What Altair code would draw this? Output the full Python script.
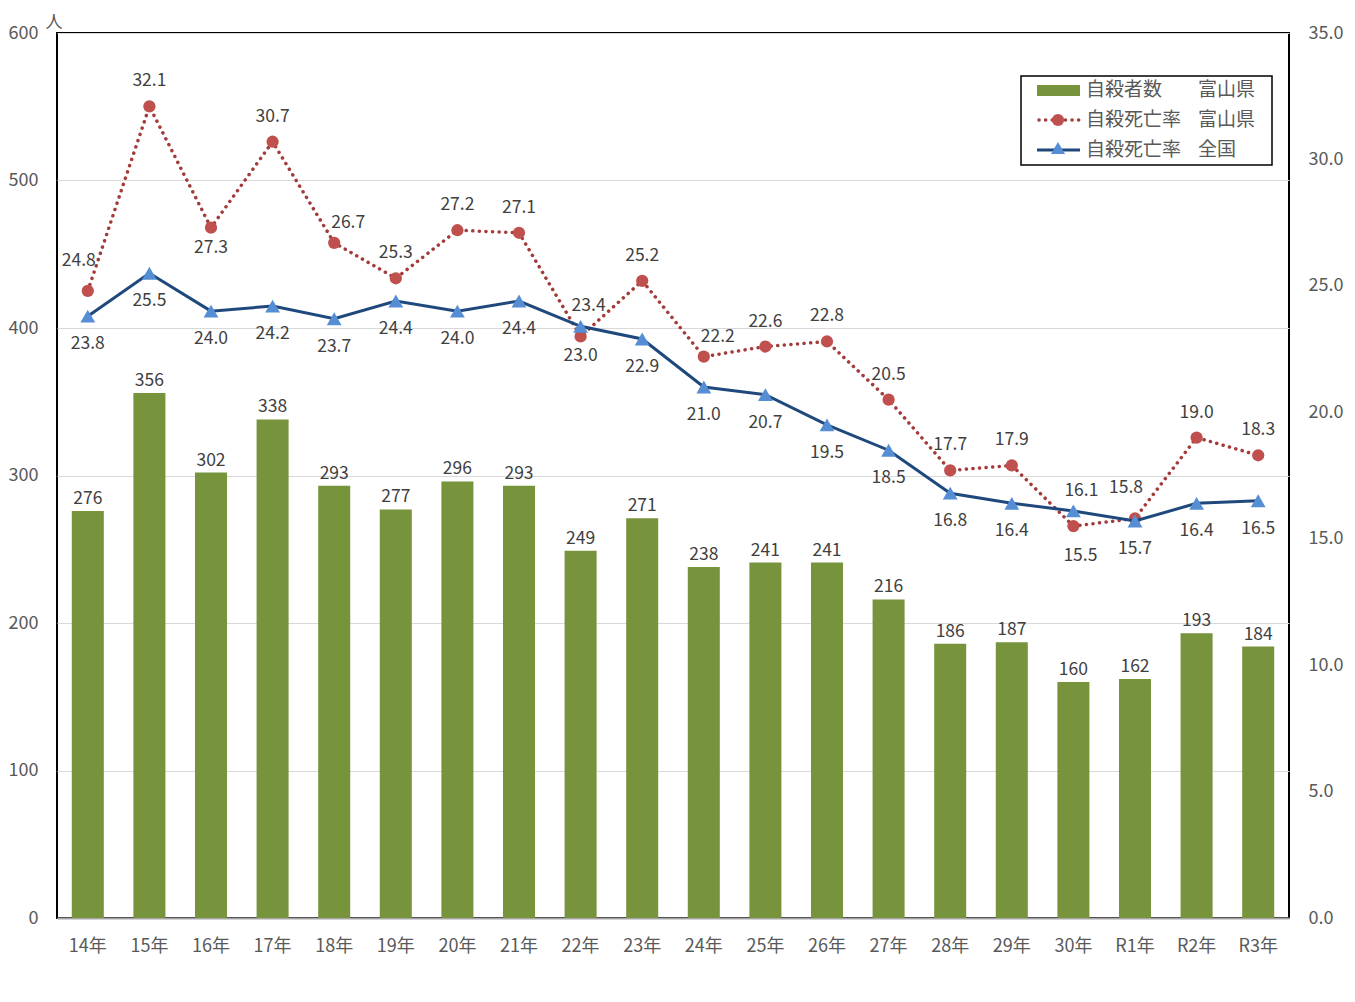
import altair as alt
import pandas as pd

years = ["14年", "15年", "16年", "17年", "18年", "19年", "20年", "21年", "22年", "23年",
         "24年", "25年", "26年", "27年", "28年", "29年", "30年", "R1年", "R2年", "R3年"]
suicides_toyama = [276, 356, 302, 338, 293, 277, 296, 293, 249, 271,
                   238, 241, 241, 216, 186, 187, 160, 162, 193, 184]
rate_toyama = [24.8, 32.1, 27.3, 30.7, 26.7, 25.3, 27.2, 27.1, 23.0, 25.2,
               22.2, 22.6, 22.8, 20.5, 17.7, 17.9, 15.5, 15.8, 19.0, 18.3]
rate_japan = [23.8, 25.5, 24.0, 24.2, 23.7, 24.4, 24.0, 24.4, 23.4, 22.9,
              21.0, 20.7, 19.5, 18.5, 16.8, 16.4, 16.1, 15.7, 16.4, 16.5]
toyama_label_side = ["above-left", "above", "below", "above", "above-right", "above", "above", "above", "below", "above",
                     "above-right", "above", "above", "above", "above", "above", "below-right", "above-left", "above", "above"]
japan_label_side = ["below", "below", "below", "below", "below", "below", "below", "below", "above-right", "below",
                    "below", "below", "below", "below", "below", "below", "above-right", "below", "below", "below"]

legend_names = ["自殺者数", "自殺死亡率", "自殺死亡率"]
legend_regions = ["富山県", "富山県", "全国"]

df = pd.DataFrame({
    "year": years,
    "count": suicides_toyama,
    "rt": rate_toyama,
    "rj": rate_japan,
    "sideT": toyama_label_side,
    "sideJ": japan_label_side,
})

FONT = "Noto Sans CJK JP"
GREEN = "#77933C"
RED = "#C0504D"
RED_LINE = "#A33B3A"
NAVY = "#1F497D"
LBLUE = "#558ED5"
TXT = "#404040"
AX = "#595959"
FS = 17.5

x = alt.X("year:N", sort=years,
          scale=alt.Scale(paddingInner=0.48, paddingOuter=0.24),
          axis=alt.Axis(title=None, labelAngle=0, labelFontSize=18, labelColor=AX, labelFont=FONT,
                        ticks=False, domainColor="#A6A6A6", domainWidth=2, labelPadding=19))

yl = alt.Y("count:Q", scale=alt.Scale(domain=[0, 600], nice=False),
           axis=alt.Axis(title="人", titleAngle=0, titleX=-12, titleY=-11, titleAlign="left",
                         titleBaseline="middle",
                         titleFontSize=17, titleFontWeight="normal", titleColor=AX, titleFont=FONT,
                         values=[0, 100, 200, 300, 400, 500, 600], labelFontSize=18, labelColor=AX,
                         labelFont=FONT, ticks=False, domain=False, labelPadding=19,
                         gridColor="#D9D9D9", gridWidth=1))

base = alt.Chart(df)

bars = base.mark_bar(color=GREEN).encode(x=x, y=yl)
bar_labels = base.mark_text(dy=-12, fontSize=FS, color=TXT, font=FONT).encode(
    x=x, y=alt.Y("count:Q"), text=alt.Text("count:Q"))
left = alt.layer(bars, bar_labels)

yr_scale = alt.Scale(domain=[0, 35], nice=False)
yr_axis = alt.Axis(title=None, orient="right", values=[0, 5, 10, 15, 20, 25, 30, 35], format=".1f",
                   labelFontSize=18, labelColor=AX, labelFont=FONT, ticks=False, domain=False,
                   grid=False, labelPadding=19)

red_line = base.mark_line(color=RED_LINE, strokeDash=[0.1, 6.5], strokeWidth=3.5, strokeCap="round").encode(
    x=x, y=alt.Y("rt:Q", scale=yr_scale, axis=yr_axis))
red_pts = base.mark_point(shape="circle", filled=True, size=150, color=RED, opacity=1).encode(
    x=x, y=alt.Y("rt:Q"))
blue_line = base.mark_line(color=NAVY, strokeWidth=3).encode(x=x, y=alt.Y("rj:Q"))
blue_pts = base.mark_point(shape="triangle-up", filled=True, size=220, color=LBLUE, opacity=1).encode(
    x=x, y=alt.Y("rj:Q"))

toyama_offsets = {"above": (0, -25), "below": (0, 20), "above-left": (-9, -30),
                  "above-right": (14, -20), "below-right": (7, 30)}
japan_offsets = {"below": (0, 28), "above-right": (8, -20)}


def label_layers(field, side_field, offsets):
    out = []
    for side, (ddx, ddy) in offsets.items():
        out.append(base.transform_filter(alt.datum[side_field] == side).mark_text(
            dx=ddx, dy=ddy, fontSize=FS, color=TXT, font=FONT).encode(
            x=x, y=alt.Y(f"{field}:Q"), text=alt.Text(f"{field}:Q", format=".1f")))
    return out


right = alt.layer(red_line, red_pts, blue_line, blue_pts,
                  *label_layers("rt", "sideT", toyama_offsets),
                  *label_layers("rj", "sideJ", japan_offsets))

# legend (drawn manually)
one = alt.Chart(pd.DataFrame({"k": [0]}))
leg_box = one.mark_rect(fill="white", stroke="black", strokeWidth=1.5).encode(
    x=alt.value(964), x2=alt.value(1215), y=alt.value(43), y2=alt.value(132))
leg_bar = one.mark_rect(fill=GREEN).encode(
    x=alt.value(980), x2=alt.value(1023), y=alt.value(52), y2=alt.value(63))
leg_red_line = one.mark_rule(color=RED_LINE, strokeDash=[0.1, 6.5], strokeWidth=3.5, strokeCap="round").encode(
    x=alt.value(982), x2=alt.value(1023), y=alt.value(87))
leg_red_pt = one.mark_point(shape="circle", filled=True, size=150, color=RED, opacity=1).encode(
    x=alt.value(1001), y=alt.value(87))
leg_blue_line = one.mark_rule(color=NAVY, strokeWidth=3).encode(
    x=alt.value(980), x2=alt.value(1023), y=alt.value(117))
leg_blue_pt = one.mark_point(shape="triangle-up", filled=True, size=200, color=LBLUE, opacity=1).encode(
    x=alt.value(1001), y=alt.value(115))

leg_df = pd.DataFrame({"name": legend_names, "region": legend_regions, "row": [0, 1, 2]})
leg_y = alt.Y("row:Q", scale=alt.Scale(domain=[0, 2], range=[57, 117], nice=False, zero=False), axis=None)
leg_names = alt.Chart(leg_df).mark_text(align="left", baseline="middle", fontSize=19, color=AX, font=FONT).encode(
    x=alt.value(1029), y=leg_y, text="name:N")
leg_regions = alt.Chart(leg_df).mark_text(align="left", baseline="middle", fontSize=19, color=AX, font=FONT).encode(
    x=alt.value(1141), y=leg_y, text="region:N")
legend = alt.layer(leg_box, leg_bar, leg_red_line, leg_red_pt, leg_blue_line, leg_blue_pt, leg_names, leg_regions)

chart = alt.layer(left, right, legend).resolve_scale(y="independent").properties(
    width=1232, height=885,
    autosize=alt.AutoSizeParams(type="none"),
    padding={"left": 49, "top": 25, "right": 56, "bottom": 60},
    background="white",
).configure_view(stroke="black", strokeWidth=2).configure_text(font=FONT)

chart.save("out.html", embed_options={"renderer": "svg", "actions": False})
